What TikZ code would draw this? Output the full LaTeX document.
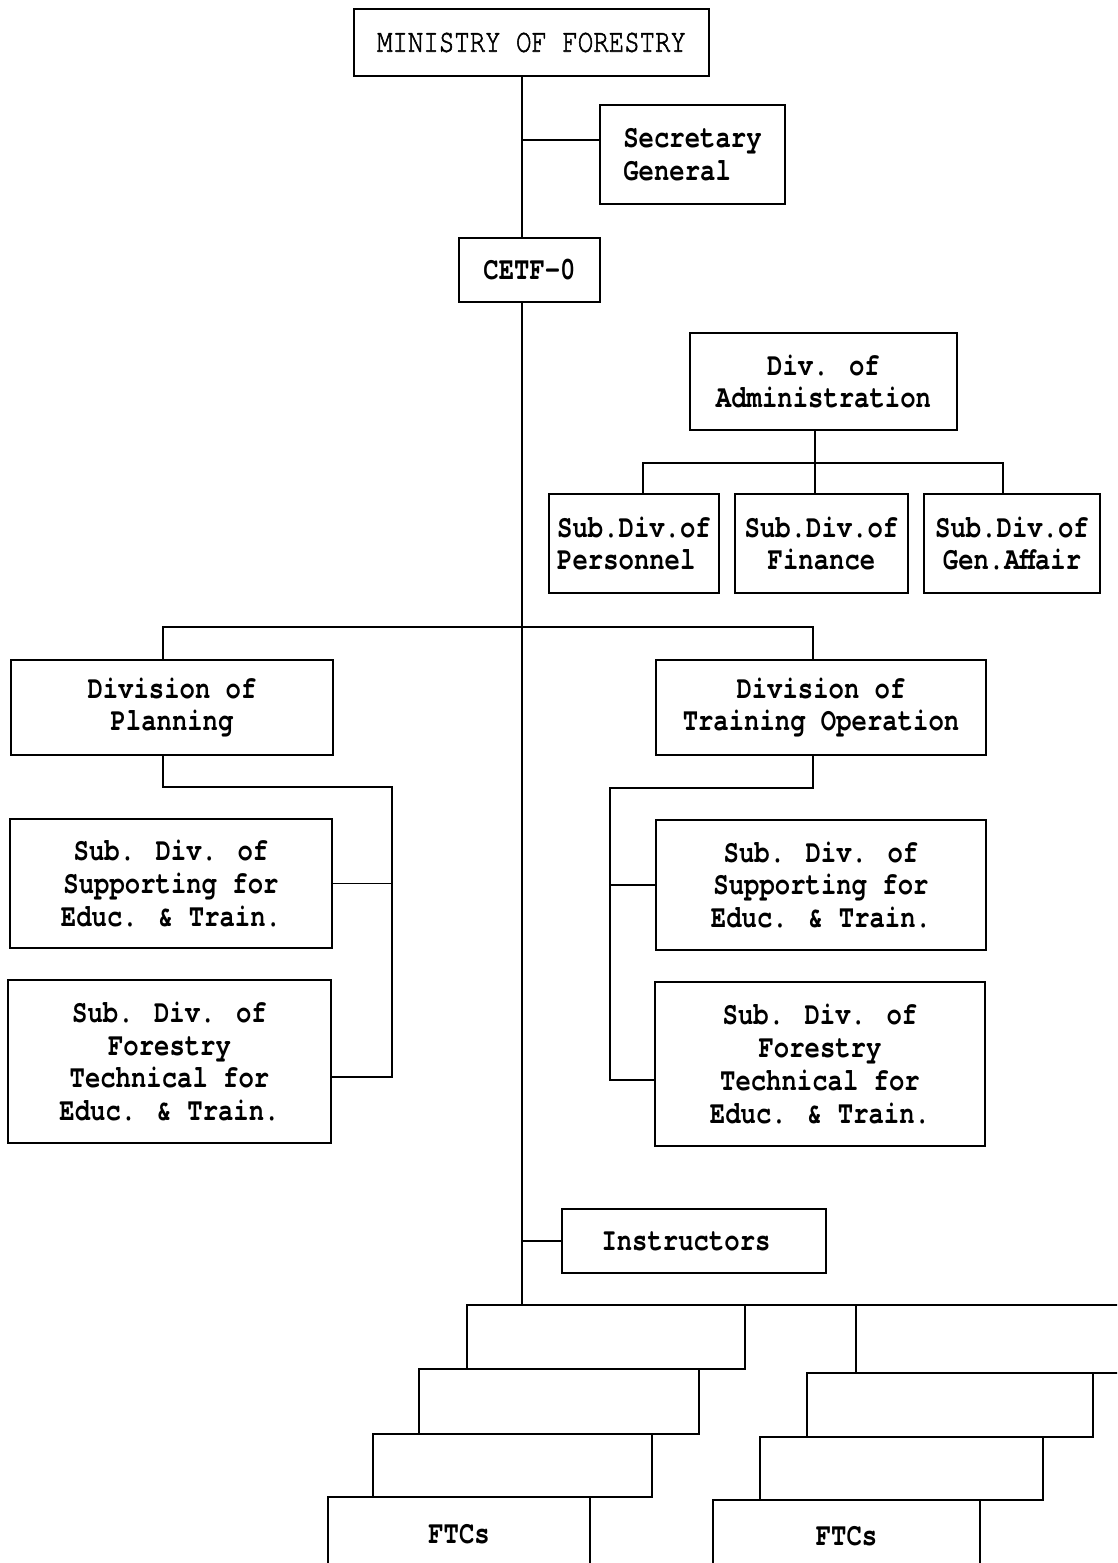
\documentclass[tikz,border=0pt]{standalone}
\usepackage{fontspec}
\newfontfamily\boxfont{TeX Gyre Cursor}[FakeStretch=0.8]
\newfontfamily\midfont{TeX Gyre Cursor}[FakeStretch=0.78,FakeBold=1.6]
\begin{document}
\begin{tikzpicture}[x=1pt,y=-1pt,line width=1.3pt,
  box/.style={draw, rectangle, inner sep=0pt, outer sep=0pt, align=center,
    font=\boxfont\bfseries\fontsize{32}{32.7}\selectfont},
  thinbox/.style={box, font=\midfont\fontsize{33}{33}\selectfont},
  wire/.style={line width=1.2pt}]
\useasboundingbox (0,0) rectangle (1117,1563);
\clip (0,0) rectangle (1117,1563);

% top
\node[thinbox, minimum width=355pt, minimum height=67pt] (min) at (531.5,42.5) {MINISTRY OF FORESTRY};
\node[box, align=left, minimum width=185pt, minimum height=99pt] (sec) at (692.5,154.5) {Secretary\\General};
\node[box, minimum width=141pt, minimum height=64pt] (cetf) at (529.5,270) {CETF-0};

% administration
\node[box, minimum width=267pt, minimum height=97pt] (adm) at (823.5,381.5) {Div. of\\Administration};
\node[box, align=left, minimum width=170pt, minimum height=99pt] (pers) at (634,543.5) {Sub.Div.of\\Personnel};
\node[box, minimum width=173pt, minimum height=99pt] (fin) at (821.5,543.5) {Sub.Div.of\\Finance};
\node[box, minimum width=176pt, minimum height=99pt] (gen) at (1012,543.5) {Sub.Div.of\\Gen.Affair};

% planning
\node[box, minimum width=322pt, minimum height=95pt] (plan) at (172,707.5) {Division of\\Planning};
\node[box, minimum width=322pt, minimum height=129pt] (lsup) at (171,883.5) {Sub. Div. of\\Supporting for\\Educ. \& Train.};
\node[box, minimum width=323pt, minimum height=163pt] (lfor) at (169.5,1061.5) {Sub. Div. of\\Forestry\\Technical for\\Educ. \& Train.};

% training
\node[box, minimum width=330pt, minimum height=95pt] (train) at (821,707.5) {Division of\\Training Operation};
\node[box, minimum width=330pt, minimum height=130pt] (rsup) at (821,885) {Sub. Div. of\\Supporting for\\Educ. \& Train.};
\node[box, minimum width=330pt, minimum height=164pt] (rfor) at (820,1064) {Sub. Div. of\\Forestry\\Technical for\\Educ. \& Train.};

% instructors
\node[box, minimum width=264pt, minimum height=64pt] (instr) at (694,1241) {Instructors\hspace*{16pt}};

% FTC stacks
\node[box, minimum width=278pt, minimum height=64pt] (fa) at (606,1337) {};
\node[box, minimum width=280pt, minimum height=65pt] (fb) at (559,1401.5) {};
\node[box, minimum width=279pt, minimum height=63pt] (fc) at (512.5,1465.5) {};
\node[box, minimum width=262pt, minimum height=75pt] (fd) at (459,1534.5) {FTCs};
\node[box, minimum width=294pt, minimum height=68pt] (fe) at (1003,1339) {};
\node[box, minimum width=286pt, minimum height=64pt] (ff) at (950,1405) {};
\node[box, minimum width=283pt, minimum height=63pt] (fg) at (901.5,1468.5) {};
\node[box, minimum width=267pt, minimum height=72pt] (fh) at (846.5,1536) {FTCs};

% helper coordinates
\coordinate (spine) at (522,0);
\coordinate (sb) at (522,140);
\coordinate (h1) at (163,627);
\coordinate (h2) at (813,627);
\coordinate (a1) at (815,463);
\coordinate (ap) at (643,463);
\coordinate (ag) at (1003,463);
\coordinate (lp) at (163,787);
\coordinate (lr) at (392,787);
\coordinate (lb2) at (392,1077);
\coordinate (rp) at (813,788);
\coordinate (rl) at (610,788);
\coordinate (rb2) at (610,1080);

% connectors
\draw[wire] (spine |- min.south) -- (spine |- cetf.north);
\draw[wire] (sb) -- (sb -| sec.west);
\draw[wire] (spine |- cetf.south) -- (spine |- fa.north);
\draw[wire] (h1 |- plan.north) -- (h1) -- (h2) -- (h2 |- train.north);

\draw[wire] (a1 |- adm.south) -- (a1 |- fin.north);
\draw[wire] (ap |- pers.north) -- (ap) -- (ag) -- (ag |- gen.north);

\draw[wire] (lp |- plan.south) -- (lp) -- (lr) -- (lb2) -- (lb2 -| lfor.east);
\draw[wire] (lr |- lsup.east) -- (lsup.east);

\draw[wire] (rp |- train.south) -- (rp) -- (rl) -- (rb2) -- (rb2 -| rfor.west);
\draw[wire] (rl |- rsup.west) -- (rsup.west);

\draw[wire] (spine |- instr.west) -- (instr.west);
\draw[wire] (fa.north east) -- (fe.north west);
\end{tikzpicture}
\end{document}
